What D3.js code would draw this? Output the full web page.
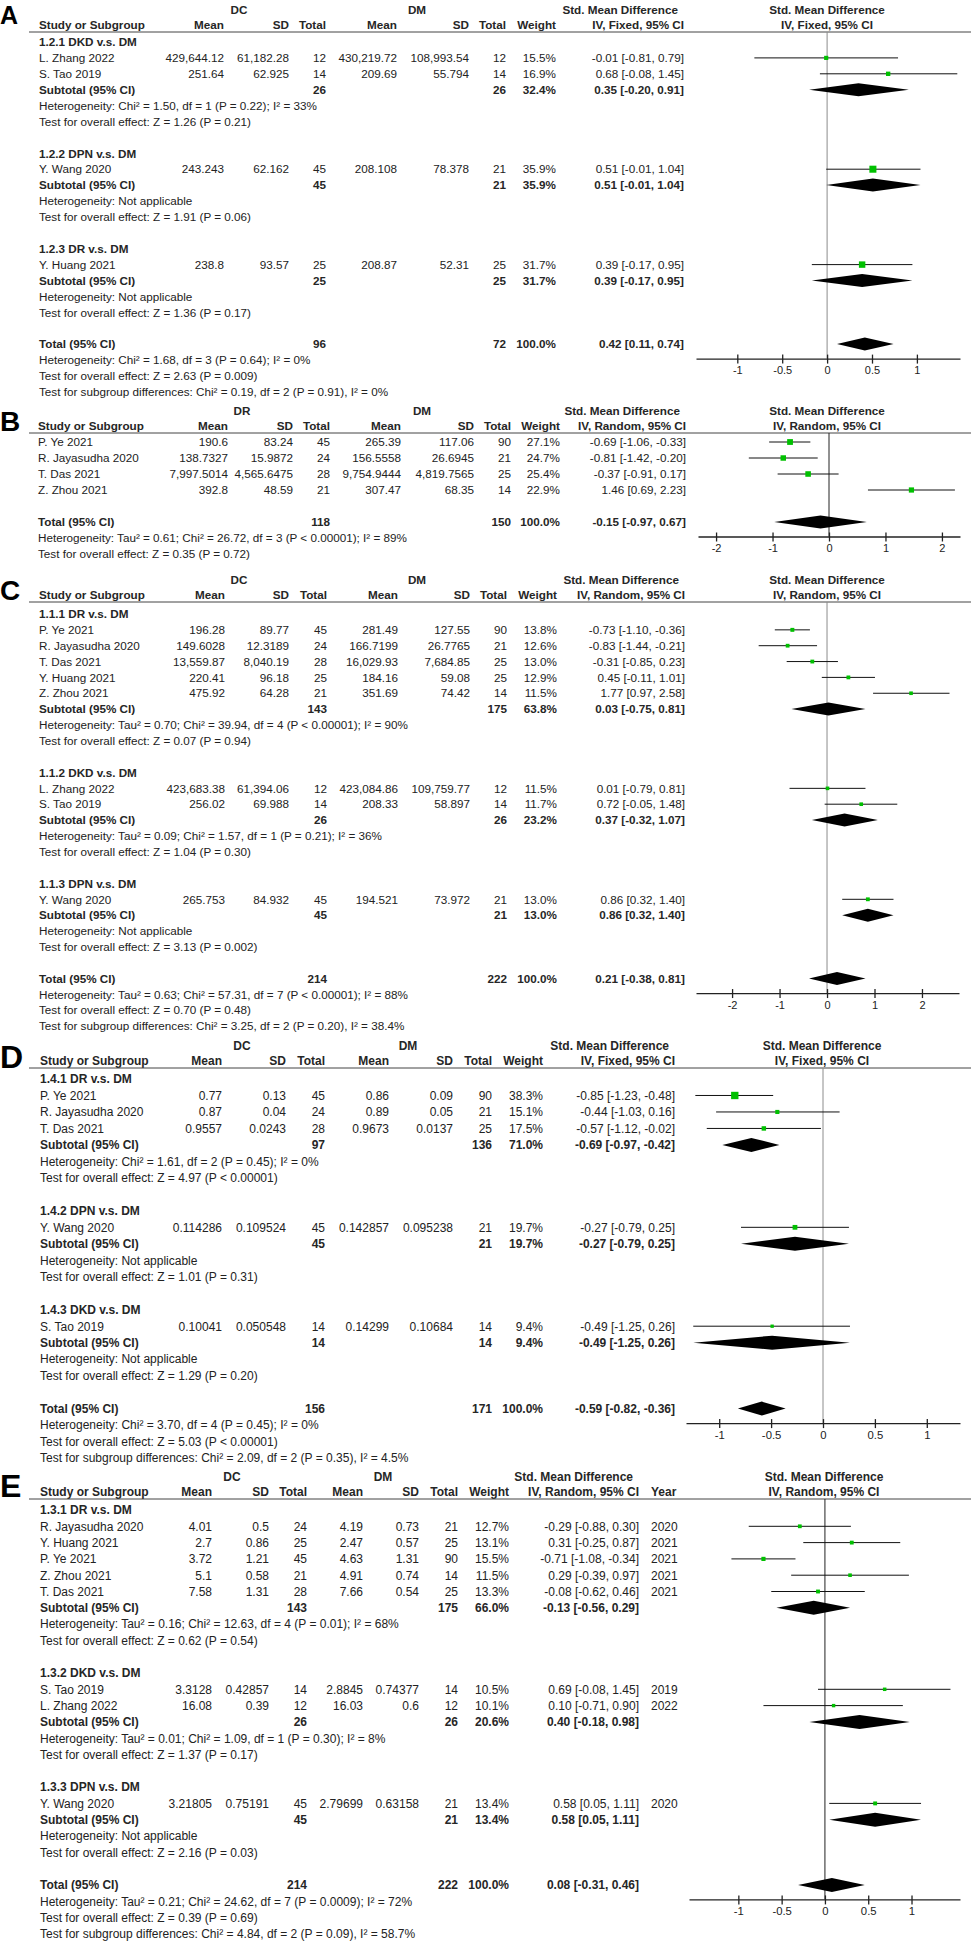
<!DOCTYPE html>
<html>
<head>
<meta charset="utf-8">
<script src="https://cdn.jsdelivr.net/npm/d3@7"></script>
<style>
  body { margin: 0; background: #fff; }
  svg { display: block; }
</style>
</head>
<body>
<div id="chart-area"></div>
<script>
// ---- data ----

// A: IV fixed
const aStudies = [
  { g: 0, study: "L. Zhang 2022", m1: 429644.12, sd1: 61182.28, n1: 12, m2: 430219.72, sd2: 108993.54, n2: 12, w: 15.5, est: -0.01, lo: -0.81, hi: 0.79 },
  { g: 0, study: "S. Tao 2019", m1: 251.64, sd1: 62.925, n1: 14, m2: 209.69, sd2: 55.794, n2: 14, w: 16.9, est: 0.68, lo: -0.08, hi: 1.45 },
  { g: 1, study: "Y. Wang 2020", m1: 243.243, sd1: 62.162, n1: 45, m2: 208.108, sd2: 78.378, n2: 21, w: 35.9, est: 0.51, lo: -0.01, hi: 1.04 },
  { g: 2, study: "Y. Huang 2021", m1: 238.8, sd1: 93.57, n1: 25, m2: 208.87, sd2: 52.31, n2: 25, w: 31.7, est: 0.39, lo: -0.17, hi: 0.95 }
];
const aGroups = [
  { label: "1.2.1 DKD v.s. DM", n1: 26, n2: 26, w: 32.4, est: 0.35, lo: -0.20, hi: 0.91,
    het: "Heterogeneity: Chi² = 1.50, df = 1 (P = 0.22); I² = 33%", test: "Test for overall effect: Z = 1.26 (P = 0.21)" },
  { label: "1.2.2 DPN v.s. DM", n1: 45, n2: 21, w: 35.9, est: 0.51, lo: -0.01, hi: 1.04,
    het: "Heterogeneity: Not applicable", test: "Test for overall effect: Z = 1.91 (P = 0.06)" },
  { label: "1.2.3 DR v.s. DM", n1: 25, n2: 25, w: 31.7, est: 0.39, lo: -0.17, hi: 0.95,
    het: "Heterogeneity: Not applicable", test: "Test for overall effect: Z = 1.36 (P = 0.17)" }
];
const aTotal = { n1: 96, n2: 72, w: 100, est: 0.42, lo: 0.11, hi: 0.74,
  het: "Heterogeneity: Chi² = 1.68, df = 3 (P = 0.64); I² = 0%",
  test: "Test for overall effect: Z = 2.63 (P = 0.009)",
  sub: "Test for subgroup differences: Chi² = 0.19, df = 2 (P = 0.91), I² = 0%" };

// B: DR vs DM, IV random, no subgroups
const bStudies = [
  { study: "P. Ye 2021", m1: 190.6, sd1: 83.24, n1: 45, m2: 265.39, sd2: 117.06, n2: 90, w: 27.1, est: -0.69, lo: -1.06, hi: -0.33 },
  { study: "R. Jayasudha 2020", m1: 138.7327, sd1: 15.9872, n1: 24, m2: 156.5558, sd2: 26.6945, n2: 21, w: 24.7, est: -0.81, lo: -1.42, hi: -0.20 },
  { study: "T. Das 2021", m1: 7997.5014, sd1: 4565.6475, n1: 28, m2: 9754.9444, sd2: 4819.7565, n2: 25, w: 25.4, est: -0.37, lo: -0.91, hi: 0.17 },
  { study: "Z. Zhou 2021", m1: 392.8, sd1: 48.59, n1: 21, m2: 307.47, sd2: 68.35, n2: 14, w: 22.9, est: 1.46, lo: 0.69, hi: 2.23 }
];
const bGroups = [];
const bTotal = { n1: 118, n2: 150, w: 100, est: -0.15, lo: -0.97, hi: 0.67,
  het: "Heterogeneity: Tau² = 0.61; Chi² = 26.72, df = 3 (P < 0.00001); I² = 89%",
  test: "Test for overall effect: Z = 0.35 (P = 0.72)" };

// C: IV random
const cStudies = [
  { g: 0, study: "P. Ye 2021", m1: 196.28, sd1: 89.77, n1: 45, m2: 281.49, sd2: 127.55, n2: 90, w: 13.8, est: -0.73, lo: -1.10, hi: -0.36 },
  { g: 0, study: "R. Jayasudha 2020", m1: 149.6028, sd1: 12.3189, n1: 24, m2: 166.7199, sd2: 26.7765, n2: 21, w: 12.6, est: -0.83, lo: -1.44, hi: -0.21 },
  { g: 0, study: "T. Das 2021", m1: 13559.87, sd1: 8040.19, n1: 28, m2: 16029.93, sd2: 7684.85, n2: 25, w: 13.0, est: -0.31, lo: -0.85, hi: 0.23 },
  { g: 0, study: "Y. Huang 2021", m1: 220.41, sd1: 96.18, n1: 25, m2: 184.16, sd2: 59.08, n2: 25, w: 12.9, est: 0.45, lo: -0.11, hi: 1.01 },
  { g: 0, study: "Z. Zhou 2021", m1: 475.92, sd1: 64.28, n1: 21, m2: 351.69, sd2: 74.42, n2: 14, w: 11.5, est: 1.77, lo: 0.97, hi: 2.58 },
  { g: 1, study: "L. Zhang 2022", m1: 423683.38, sd1: 61394.06, n1: 12, m2: 423084.86, sd2: 109759.77, n2: 12, w: 11.5, est: 0.01, lo: -0.79, hi: 0.81 },
  { g: 1, study: "S. Tao 2019", m1: 256.02, sd1: 69.988, n1: 14, m2: 208.33, sd2: 58.897, n2: 14, w: 11.7, est: 0.72, lo: -0.05, hi: 1.48 },
  { g: 2, study: "Y. Wang 2020", m1: 265.753, sd1: 84.932, n1: 45, m2: 194.521, sd2: 73.972, n2: 21, w: 13.0, est: 0.86, lo: 0.32, hi: 1.40 }
];
const cGroups = [
  { label: "1.1.1 DR v.s. DM", n1: 143, n2: 175, w: 63.8, est: 0.03, lo: -0.75, hi: 0.81,
    het: "Heterogeneity: Tau² = 0.70; Chi² = 39.94, df = 4 (P < 0.00001); I² = 90%", test: "Test for overall effect: Z = 0.07 (P = 0.94)" },
  { label: "1.1.2 DKD v.s. DM", n1: 26, n2: 26, w: 23.2, est: 0.37, lo: -0.32, hi: 1.07,
    het: "Heterogeneity: Tau² = 0.09; Chi² = 1.57, df = 1 (P = 0.21); I² = 36%", test: "Test for overall effect: Z = 1.04 (P = 0.30)" },
  { label: "1.1.3 DPN v.s. DM", n1: 45, n2: 21, w: 13.0, est: 0.86, lo: 0.32, hi: 1.40,
    het: "Heterogeneity: Not applicable", test: "Test for overall effect: Z = 3.13 (P = 0.002)" }
];
const cTotal = { n1: 214, n2: 222, w: 100, est: 0.21, lo: -0.38, hi: 0.81,
  het: "Heterogeneity: Tau² = 0.63; Chi² = 57.31, df = 7 (P < 0.00001); I² = 88%",
  test: "Test for overall effect: Z = 0.70 (P = 0.48)",
  sub: "Test for subgroup differences: Chi² = 3.25, df = 2 (P = 0.20), I² = 38.4%" };

// D: IV fixed
const dStudies = [
  { g: 0, study: "P. Ye 2021", m1: 0.77, sd1: 0.13, n1: 45, m2: 0.86, sd2: 0.09, n2: 90, w: 38.3, est: -0.85, lo: -1.23, hi: -0.48 },
  { g: 0, study: "R. Jayasudha 2020", m1: 0.87, sd1: 0.04, n1: 24, m2: 0.89, sd2: 0.05, n2: 21, w: 15.1, est: -0.44, lo: -1.03, hi: 0.16 },
  { g: 0, study: "T. Das 2021", m1: 0.9557, sd1: 0.0243, n1: 28, m2: 0.9673, sd2: 0.0137, n2: 25, w: 17.5, est: -0.57, lo: -1.12, hi: -0.02 },
  { g: 1, study: "Y. Wang 2020", m1: 0.114286, sd1: 0.109524, n1: 45, m2: 0.142857, sd2: 0.095238, n2: 21, w: 19.7, est: -0.27, lo: -0.79, hi: 0.25 },
  { g: 2, study: "S. Tao 2019", m1: 0.10041, sd1: 0.050548, n1: 14, m2: 0.14299, sd2: 0.10684, n2: 14, w: 9.4, est: -0.49, lo: -1.25, hi: 0.26 }
];
const dGroups = [
  { label: "1.4.1 DR v.s. DM", n1: 97, n2: 136, w: 71.0, est: -0.69, lo: -0.97, hi: -0.42,
    het: "Heterogeneity: Chi² = 1.61, df = 2 (P = 0.45); I² = 0%", test: "Test for overall effect: Z = 4.97 (P < 0.00001)" },
  { label: "1.4.2 DPN v.s. DM", n1: 45, n2: 21, w: 19.7, est: -0.27, lo: -0.79, hi: 0.25,
    het: "Heterogeneity: Not applicable", test: "Test for overall effect: Z = 1.01 (P = 0.31)" },
  { label: "1.4.3 DKD v.s. DM", n1: 14, n2: 14, w: 9.4, est: -0.49, lo: -1.25, hi: 0.26,
    het: "Heterogeneity: Not applicable", test: "Test for overall effect: Z = 1.29 (P = 0.20)" }
];
const dTotal = { n1: 156, n2: 171, w: 100, est: -0.59, lo: -0.82, hi: -0.36,
  het: "Heterogeneity: Chi² = 3.70, df = 4 (P = 0.45); I² = 0%",
  test: "Test for overall effect: Z = 5.03 (P < 0.00001)",
  sub: "Test for subgroup differences: Chi² = 2.09, df = 2 (P = 0.35), I² = 4.5%" };

// E: IV random, with year
const eStudies = [
  { g: 0, study: "R. Jayasudha 2020", m1: 4.01, sd1: 0.5, n1: 24, m2: 4.19, sd2: 0.73, n2: 21, w: 12.7, est: -0.29, lo: -0.88, hi: 0.30, year: 2020 },
  { g: 0, study: "Y. Huang 2021", m1: 2.7, sd1: 0.86, n1: 25, m2: 2.47, sd2: 0.57, n2: 25, w: 13.1, est: 0.31, lo: -0.25, hi: 0.87, year: 2021 },
  { g: 0, study: "P. Ye 2021", m1: 3.72, sd1: 1.21, n1: 45, m2: 4.63, sd2: 1.31, n2: 90, w: 15.5, est: -0.71, lo: -1.08, hi: -0.34, year: 2021 },
  { g: 0, study: "Z. Zhou 2021", m1: 5.1, sd1: 0.58, n1: 21, m2: 4.91, sd2: 0.74, n2: 14, w: 11.5, est: 0.29, lo: -0.39, hi: 0.97, year: 2021 },
  { g: 0, study: "T. Das 2021", m1: 7.58, sd1: 1.31, n1: 28, m2: 7.66, sd2: 0.54, n2: 25, w: 13.3, est: -0.08, lo: -0.62, hi: 0.46, year: 2021 },
  { g: 1, study: "S. Tao 2019", m1: 3.3128, sd1: 0.42857, n1: 14, m2: 2.8845, sd2: 0.74377, n2: 14, w: 10.5, est: 0.69, lo: -0.08, hi: 1.45, year: 2019 },
  { g: 1, study: "L. Zhang 2022", m1: 16.08, sd1: 0.39, n1: 12, m2: 16.03, sd2: 0.6, n2: 12, w: 10.1, est: 0.10, lo: -0.71, hi: 0.90, year: 2022 },
  { g: 2, study: "Y. Wang 2020", m1: 3.21805, sd1: 0.75191, n1: 45, m2: 2.79699, sd2: 0.63158, n2: 21, w: 13.4, est: 0.58, lo: 0.05, hi: 1.11, year: 2020 }
];
const eGroups = [
  { label: "1.3.1 DR v.s. DM", n1: 143, n2: 175, w: 66.0, est: -0.13, lo: -0.56, hi: 0.29,
    het: "Heterogeneity: Tau² = 0.16; Chi² = 12.63, df = 4 (P = 0.01); I² = 68%", test: "Test for overall effect: Z = 0.62 (P = 0.54)" },
  { label: "1.3.2 DKD v.s. DM", n1: 26, n2: 26, w: 20.6, est: 0.40, lo: -0.18, hi: 0.98,
    het: "Heterogeneity: Tau² = 0.01; Chi² = 1.09, df = 1 (P = 0.30); I² = 8%", test: "Test for overall effect: Z = 1.37 (P = 0.17)" },
  { label: "1.3.3 DPN v.s. DM", n1: 45, n2: 21, w: 13.4, est: 0.58, lo: 0.05, hi: 1.11,
    het: "Heterogeneity: Not applicable", test: "Test for overall effect: Z = 2.16 (P = 0.03)" }
];
const eTotal = { n1: 214, n2: 222, w: 100, est: 0.08, lo: -0.31, hi: 0.46,
  het: "Heterogeneity: Tau² = 0.21; Chi² = 24.62, df = 7 (P = 0.0009); I² = 72%",
  test: "Test for overall effect: Z = 0.39 (P = 0.69)",
  sub: "Test for subgroup differences: Chi² = 4.84, df = 2 (P = 0.09), I² = 58.7%" };

const panelLetters = ["A", "B", "C", "D", "E"];
const armLabels = [["DC", "DM"], ["DR", "DM"], ["DC", "DM"], ["DC", "DM"], ["DC", "DM"]];
const methods = ["IV, Fixed, 95% CI", "IV, Random, 95% CI", "IV, Random, 95% CI", "IV, Fixed, 95% CI", "IV, Random, 95% CI"];
const axisTicks = [[-1, -0.5, 0, 0.5, 1], [-2, -1, 0, 1, 2], [-2, -1, 0, 1, 2], [-1, -0.5, 0, 0.5, 1], [-1, -0.5, 0, 0.5, 1]];

// ---- layout (positions only) ----
const layouts = [
  { ruleY: 32, rowY0: 42, pitch: 15.9, font: 11.7, letterSize: 25, letterY: 24,
    cols: { study: 39, m1: 224, sd1: 289, n1: 326, m2: 397, sd2: 469, n2: 506, w: 556, ci: 684 },
    grp: [239, 417], plotCX: 827, domain: [-1.46, 1.48], range: [696, 960], zero: "#8c8c8c" },
  { ruleY: 433, rowY0: 442, pitch: 16, font: 11.7, letterSize: 28, letterY: 431,
    cols: { study: 38, m1: 228, sd1: 293, n1: 330, m2: 401, sd2: 474, n2: 511, w: 560, ci: 686 },
    grp: [242, 422], plotCX: 827, domain: [-2.32, 2.32], range: [698, 960], zero: "#222" },
  { ruleY: 602, rowY0: 614, pitch: 15.85, font: 11.7, letterSize: 28, letterY: 600,
    cols: { study: 39, m1: 225, sd1: 289, n1: 327, m2: 398, sd2: 470, n2: 507, w: 557, ci: 685 },
    grp: [239, 417], plotCX: 827, domain: [-2.76, 2.78], range: [696, 959], zero: "#8c8c8c" },
  { ruleY: 1068, rowY0: 1079, pitch: 16.48, font: 12, letterSize: 32, letterY: 1068,
    cols: { study: 40, m1: 222, sd1: 286, n1: 325, m2: 389, sd2: 453, n2: 492, w: 543, ci: 675 },
    grp: [242, 408], plotCX: 822, domain: [-1.32, 1.32], range: [686, 960], zero: "#8c8c8c" },
  { ruleY: 1499, rowY0: 1510, pitch: 16.3, font: 12, letterSize: 32, letterY: 1497,
    cols: { study: 40, m1: 212, sd1: 269, n1: 307, m2: 363, sd2: 419, n2: 458, w: 509, ci: 639, year: 651 },
    grp: [232, 383], plotCX: 824, domain: [-1.57, 1.56], range: [689, 960], zero: "#222" }
];

const panels = [
  [aStudies, aGroups, aTotal],
  [bStudies, bGroups, bTotal],
  [cStudies, cGroups, cTotal],
  [dStudies, dGroups, dTotal],
  [eStudies, eGroups, eTotal]
];

const FONT = "'Liberation Sans', Arial, Helvetica, sans-serif";
const INK = "#222";
const GREEN = "#00c000";

const svg = d3.select("#chart-area")
  .append("svg")
    .attr("width", 973)
    .attr("height", 1945)
    .attr("font-family", FONT);

svg.append("rect").attr("width", 973).attr("height", 1945).attr("fill", "#fff");

const num = d3.format(",");
const f2 = d => d.toFixed(2);
const ciText = d => `${f2(d.est)} [${f2(d.lo)}, ${f2(d.hi)}]`;
const wText = d => d.w.toFixed(1) + "%";

function buildRows(studies, groups, total) {
  const rows = [];
  if (groups.length) {
    groups.forEach((gr, gi) => {
      rows.push({ type: "group", d: gr });
      studies.filter(s => s.g === gi).forEach(s => rows.push({ type: "study", d: s }));
      rows.push({ type: "subtotal", d: gr });
      rows.push({ type: "note", text: gr.het });
      rows.push({ type: "note", text: gr.test });
      rows.push({ type: "blank" });
    });
  } else {
    studies.forEach(s => rows.push({ type: "study", d: s }));
    rows.push({ type: "blank" });
  }
  rows.push({ type: "total", d: total });
  rows.push({ type: "note", text: total.het });
  rows.push({ type: "note", text: total.test });
  if (total.sub) rows.push({ type: "note", text: total.sub });
  return rows;
}

function label(g, x, y, s, anchor, bold) {
  return g.append("text")
    .attr("x", x)
    .attr("y", y)
    .attr("dy", "0.36em")
    .attr("text-anchor", anchor || "start")
    .attr("font-weight", bold ? "bold" : "normal")
    .attr("fill", bold ? "#262626" : INK)
    .text(s);
}

function drawPanel(pi) {
  const [studies, groups, total] = panels[pi];
  const L = layouts[pi];
  const c = L.cols;
  const g = svg.append("g").attr("font-size", L.font);
  const x = d3.scaleLinear().domain(L.domain).range(L.range);
  const rows = buildRows(studies, groups, total);
  const rowY = i => L.rowY0 + i * L.pitch;

  // panel letter
  g.append("text")
    .attr("x", 0)
    .attr("y", L.letterY)
    .attr("font-size", L.letterSize)
    .attr("font-weight", "bold")
    .attr("fill", "#000")
    .text(panelLetters[pi]);

  // header
  const h1 = L.ruleY - 22;
  const h2 = L.ruleY - 7;
  label(g, L.grp[0], h1, armLabels[pi][0], "middle", true);
  label(g, L.grp[1], h1, armLabels[pi][1], "middle", true);
  label(g, c.ci - 6, h1, "Std. Mean Difference", "end", true);
  label(g, L.plotCX, h1, "Std. Mean Difference", "middle", true);

  label(g, c.study, h2, "Study or Subgroup", "start", true);
  [["m1", "Mean"], ["sd1", "SD"], ["n1", "Total"], ["m2", "Mean"], ["sd2", "SD"], ["n2", "Total"], ["w", "Weight"], ["ci", methods[pi]]]
    .forEach(([k, t]) => label(g, c[k], h2, t, "end", true));
  if (c.year) label(g, c.year, h2, "Year", "start", true);
  label(g, L.plotCX, h2, methods[pi], "middle", true);

  g.append("line")
    .attr("x1", 29).attr("x2", 971)
    .attr("y1", L.ruleY).attr("y2", L.ruleY)
    .attr("stroke", "#444").attr("stroke-width", 1);

  // table rows
  let totalY = 0;
  rows.forEach((r, i) => {
    const y = rowY(i);
    if (r.type === "group") {
      label(g, c.study, y, r.d.label, "start", true);
    } else if (r.type === "study") {
      const d = r.d;
      label(g, c.study, y, d.study);
      label(g, c.m1, y, num(d.m1), "end");
      label(g, c.sd1, y, num(d.sd1), "end");
      label(g, c.n1, y, d.n1, "end");
      label(g, c.m2, y, num(d.m2), "end");
      label(g, c.sd2, y, num(d.sd2), "end");
      label(g, c.n2, y, d.n2, "end");
      label(g, c.w, y, wText(d), "end");
      label(g, c.ci, y, ciText(d), "end");
      if (c.year) label(g, c.year, y, d.year, "start");
    } else if (r.type === "subtotal" || r.type === "total") {
      const d = r.d;
      label(g, c.study, y, r.type === "total" ? "Total (95% CI)" : "Subtotal (95% CI)", "start", true);
      label(g, c.n1, y, d.n1, "end", true);
      label(g, c.n2, y, d.n2, "end", true);
      label(g, c.w, y, wText(d), "end", true);
      label(g, c.ci, y, ciText(d), "end", true);
      if (r.type === "total") totalY = y;
    } else if (r.type === "note") {
      label(g, c.study, y, r.text);
    }
  });

  const axisY = totalY + 14.5;

  // line of no effect
  g.append("line")
    .attr("x1", x(0)).attr("x2", x(0))
    .attr("y1", L.ruleY).attr("y2", axisY)
    .attr("stroke", L.zero).attr("stroke-width", 1);

  // study estimates
  const studyRows = rows.map((r, i) => ({ r, y: rowY(i) })).filter(o => o.r.type === "study");
  g.selectAll(".ci")
    .data(studyRows)
    .enter()
    .append("line")
      .attr("x1", o => x(o.r.d.lo))
      .attr("x2", o => x(o.r.d.hi))
      .attr("y1", o => o.y)
      .attr("y2", o => o.y)
      .attr("stroke", "#111")
      .attr("stroke-width", 1);

  g.selectAll(".box")
    .data(studyRows)
    .enter()
    .append("rect")
      .attr("x", o => x(o.r.d.est) - (2 + o.r.d.w * 0.14) / 2)
      .attr("y", o => o.y - (2 + o.r.d.w * 0.14) / 2)
      .attr("width", o => 2 + o.r.d.w * 0.14)
      .attr("height", o => 2 + o.r.d.w * 0.14)
      .attr("fill", GREEN);

  // pooled diamonds
  const dh = L.font >= 12 ? 7 : 6.5;
  const pooled = rows.map((r, i) => ({ r, y: rowY(i) }))
    .filter(o => o.r.type === "subtotal" || o.r.type === "total");
  g.selectAll(".diamond")
    .data(pooled)
    .enter()
    .append("polygon")
      .attr("points", o => [
        [x(o.r.d.lo), o.y], [x(o.r.d.est), o.y - dh],
        [x(o.r.d.hi), o.y], [x(o.r.d.est), o.y + dh]
      ].map(p => p.join(",")).join(" "))
      .attr("fill", "#000");

  // axis
  const axis = d3.axisBottom(x)
    .tickValues(axisTicks[pi])
    .tickSizeInner(4)
    .tickSizeOuter(0)
    .tickFormat(d => String(d));

  const ag = g.append("g")
    .attr("transform", `translate(0, ${axisY})`)
    .call(axis);
  ag.select(".domain").attr("stroke", "#222").attr("stroke-width", 1.3);
  ag.selectAll(".tick line").attr("y1", -4).attr("y2", 5).attr("stroke", "#222").attr("stroke-width", 1.3);
  ag.selectAll(".tick text")
    .attr("font-family", FONT)
    .attr("font-size", L.font - 0.7)
    .attr("fill", INK)
    .attr("y", 8);
}

panelLetters.forEach((_, i) => drawPanel(i));
</script>
</body>
</html>
